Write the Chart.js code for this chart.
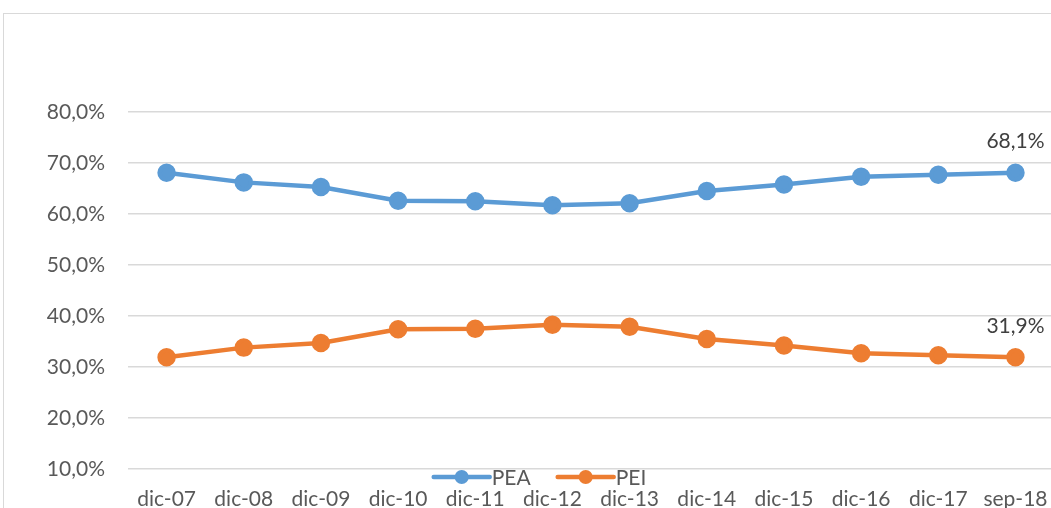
<!DOCTYPE html>
<html>
<head>
<meta charset="utf-8">
<script src="https://cdn.jsdelivr.net/npm/chart.js@4.4.0/dist/chart.umd.min.js"></script>
<style>
  html, body { margin: 0; padding: 0; background: #fff; overflow: hidden; }
  #frame { position: absolute; left: 3px; top: 13px; width: 1100px; height: 600px; border: 1.5px solid #d9d9d9; }
  #chart { position: absolute; left: 0; top: 0; }
</style>
</head>
<body>
<div id="frame"></div>
<canvas id="chart" width="1066" height="530"></canvas>
<script>
const periods = ["dic-07", "dic-08", "dic-09", "dic-10", "dic-11", "dic-12",
                 "dic-13", "dic-14", "dic-15", "dic-16", "dic-17", "sep-18"];
// share of the working-age population, %
const pea = [68.1, 66.2, 65.3, 62.6, 62.5, 61.7, 62.1, 64.5, 65.8, 67.3, 67.7, 68.1];
const pei = [31.9, 33.8, 34.7, 37.4, 37.5, 38.3, 37.9, 35.5, 34.2, 32.7, 32.3, 31.9];
const seriesNames = ["PEA", "PEI"];
const seriesColors = ["#5b9bd5", "#ed7d31"];

const FONT = "Lato";
const fmt = v => v.toFixed(1).replace(".", ",") + "%";

// value label above the last point of each line
const lastLabels = {
  id: "lastLabels",
  afterDatasetsDraw(chart) {
    const ctx = chart.ctx;
    ctx.save();
    ctx.font = "21px " + FONT;
    ctx.fillStyle = "#404040";
    ctx.textAlign = "center";
    ctx.textBaseline = "middle";
    chart.data.datasets.forEach((ds, i) => {
      const pts = chart.getDatasetMeta(i).data;
      const p = pts[pts.length - 1];
      ctx.fillText(fmt(ds.data[ds.data.length - 1]), p.x, p.y - 31);
    });
    ctx.restore();
  }
};

// legend sitting between the bottom gridline and the category labels
const lineLegend = {
  id: "lineLegend",
  afterDraw(chart) {
    const ctx = chart.ctx;
    ctx.save();
    ctx.font = "21px " + FONT;
    ctx.textBaseline = "middle";
    const lineLen = 56, gap = 2, itemGap = 27;
    const items = chart.data.datasets.map(ds => ({ ds, w: lineLen + gap + ctx.measureText(ds.label).width }));
    const total = items.reduce((s, it) => s + it.w, 0) + itemGap * (items.length - 1);
    let x = 540 - total / 2;
    const y = 477;
    items.forEach(it => {
      ctx.strokeStyle = it.ds.borderColor;
      ctx.lineWidth = 4.5;
      ctx.lineCap = "round";
      ctx.beginPath();
      ctx.moveTo(x, y);
      ctx.lineTo(x + lineLen, y);
      ctx.stroke();
      ctx.fillStyle = it.ds.borderColor;
      ctx.beginPath();
      ctx.arc(x + lineLen / 2, y, 7, 0, Math.PI * 2);
      ctx.fill();
      ctx.fillStyle = "#595959";
      ctx.fillText(it.ds.label, x + lineLen + gap, y + 1);
      x += it.w + itemGap;
    });
    ctx.restore();
  }
};

const makeSet = (data, i) => ({
  label: seriesNames[i],
  data: data,
  borderColor: seriesColors[i],
  backgroundColor: seriesColors[i],
  borderWidth: 4.5,
  pointRadius: 7,
  pointHoverRadius: 7,
  tension: 0
});

new Chart(document.getElementById("chart"), {
  type: "line",
  plugins: [lastLabels, lineLegend],
  data: {
    labels: periods,
    datasets: [makeSet(pea, 0), makeSet(pei, 1)]
  },
  options: {
    responsive: false,
    animation: false,
    layout: { padding: { top: 112, right: 3, left: 0, bottom: 0 } },
    plugins: { legend: { display: false }, tooltip: { enabled: false } },
    scales: {
      x: {
        offset: true,
        grid: { display: false, drawTicks: false },
        border: { display: false },
        ticks: { color: "#595959", font: { family: FONT, size: 21 }, padding: 18, maxRotation: 0, autoSkip: false },
        afterFit: s => { s.height = 61; }
      },
      y: {
        min: 10,
        max: 80,
        grid: { color: "#d9d9d9", lineWidth: 1.5, drawTicks: false },
        border: { display: false },
        ticks: { stepSize: 10, color: "#595959", font: { family: FONT, size: 21 }, padding: 23, callback: v => fmt(v) },
        afterFit: s => { s.width = 128; }
      }
    }
  }
});
</script>
</body>
</html>
